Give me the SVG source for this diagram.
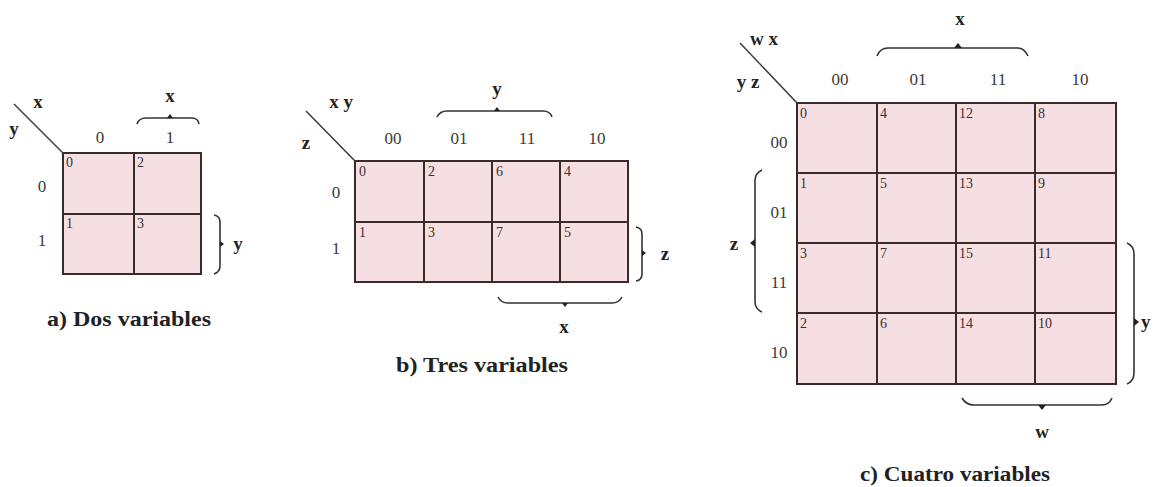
<svg xmlns="http://www.w3.org/2000/svg" width="1155" height="487" viewBox="0 0 1155 487">
<style>
.bg{fill:#ffffff}
.cell{fill:#f6dfe2;stroke:#3a2b2b;stroke-width:2}
.grid{stroke:#3a2b2b;stroke-width:2;fill:none}
.diag{stroke:#3a3a3a;stroke-width:1.5;fill:none}
.brace{stroke:#333;stroke-width:1.6;fill:none}
.tip{fill:#222}
.num{font-family:"Liberation Serif",serif;font-size:14px;fill:#3a3030}
.hdr{font-family:"Liberation Serif",serif;font-size:17px;fill:#3a3a3a;text-anchor:middle}
.var{font-family:"Liberation Serif",serif;font-size:19px;font-weight:bold;fill:#222;text-anchor:middle}
.cap{font-family:"Liberation Serif",serif;font-size:20px;font-weight:bold;fill:#222;text-anchor:middle}
</style>
<rect class="bg" x="0" y="0" width="1155" height="487"/>

<g id="map-a">
  <rect class="cell" x="63" y="153" width="138" height="121"/>
  <path class="grid" d="M134 153V274M63 214H201"/>
  <path class="diag" d="M14 104L63 153"/>
  <text class="var" x="38" y="108">x</text>
  <text class="var" x="14" y="135">y</text>
  <text class="hdr" x="100" y="143">0</text>
  <text class="hdr" x="170" y="143">1</text>
  <text class="hdr" x="42" y="192">0</text>
  <text class="hdr" x="42" y="246">1</text>
  <text class="num" x="66" y="167">0</text>
  <text class="num" x="137" y="167">2</text>
  <text class="num" x="66" y="228">1</text>
  <text class="num" x="137" y="228">3</text>
  <text class="var" x="170" y="102">x</text>
  <text class="var" x="238" y="250">y</text>
  <text class="cap" x="129" y="326" textLength="164" lengthAdjust="spacingAndGlyphs">a) Dos variables</text>
</g>

<g id="map-b">
  <rect class="cell" x="355" y="161" width="273" height="121"/>
  <path class="grid" d="M424 161V282M492 161V282M560 161V282M355 222H628"/>
  <path class="diag" d="M306 111L355 161"/>
  <text class="var" x="341" y="108">x y</text>
  <text class="var" x="306" y="149">z</text>
  <text class="hdr" x="393" y="144">00</text>
  <text class="hdr" x="459" y="144">01</text>
  <text class="hdr" x="527" y="144">11</text>
  <text class="hdr" x="597" y="144">10</text>
  <text class="hdr" x="336" y="198">0</text>
  <text class="hdr" x="336" y="254">1</text>
  <text class="num" x="359" y="176">0</text>
  <text class="num" x="428" y="176">2</text>
  <text class="num" x="496" y="176">6</text>
  <text class="num" x="564" y="176">4</text>
  <text class="num" x="359" y="237">1</text>
  <text class="num" x="428" y="237">3</text>
  <text class="num" x="496" y="237">7</text>
  <text class="num" x="564" y="237">5</text>
  <text class="var" x="497" y="95">y</text>
  <text class="var" x="665" y="260">z</text>
  <text class="var" x="564" y="333">x</text>
  <text class="cap" x="482" y="372" textLength="172" lengthAdjust="spacingAndGlyphs">b) Tres variables</text>
</g>

<g id="map-c">
  <rect class="cell" x="797" y="103" width="319" height="281"/>
  <path class="grid" d="M877 103V384M956 103V384M1035 103V384M797 173H1116M797 243H1116M797 313H1116"/>
  <path class="diag" d="M740 43L797 103"/>
  <text class="var" x="764" y="45">w x</text>
  <text class="var" x="748" y="88">y z</text>
  <text class="hdr" x="840" y="85">00</text>
  <text class="hdr" x="918" y="85">01</text>
  <text class="hdr" x="998" y="85">11</text>
  <text class="hdr" x="1080" y="85">10</text>
  <text class="hdr" x="779" y="148">00</text>
  <text class="hdr" x="779" y="218">01</text>
  <text class="hdr" x="779" y="288">11</text>
  <text class="hdr" x="779" y="358">10</text>
  <text class="num" x="800" y="118">0</text>
  <text class="num" x="880" y="118">4</text>
  <text class="num" x="959" y="118">12</text>
  <text class="num" x="1038" y="118">8</text>
  <text class="num" x="800" y="188">1</text>
  <text class="num" x="880" y="188">5</text>
  <text class="num" x="959" y="188">13</text>
  <text class="num" x="1038" y="188">9</text>
  <text class="num" x="800" y="258">3</text>
  <text class="num" x="880" y="258">7</text>
  <text class="num" x="959" y="258">15</text>
  <text class="num" x="1038" y="258">11</text>
  <text class="num" x="800" y="328">2</text>
  <text class="num" x="880" y="328">6</text>
  <text class="num" x="959" y="328">14</text>
  <text class="num" x="1038" y="328">10</text>
  <text class="var" x="960" y="25">x</text>
  <text class="var" x="734" y="250">z</text>
  <text class="var" x="1141" y="328" style="text-anchor:start">y</text>
  <text class="var" x="1042" y="438">w</text>
  <text class="cap" x="955" y="481" textLength="190" lengthAdjust="spacingAndGlyphs">c) Cuatro variables</text>
</g>

<g id="connectors">
  <path class="brace" d="M137 124Q139 118 146 118H192Q198 118 199 124"/>
  <path class="tip" d="M167 118L170 114L173 118Z"/>
  <path class="brace" d="M214 215Q220 216 220 222V266Q220 272 214 274"/>
  <path class="tip" d="M220 241L224 244L220 247Z"/>
  <path class="brace" d="M437 117Q440 111 447 111H543Q550 111 552 117"/>
  <path class="tip" d="M494 111L497 107L500 111Z"/>
  <path class="brace" d="M636 227Q642 228 642 234V274Q642 280 636 281"/>
  <path class="tip" d="M642 250L646 253L642 256Z"/>
  <path class="brace" d="M498 297Q501 303 508 303H612Q619 303 622 297"/>
  <path class="tip" d="M562 303L565 307L568 303Z"/>
  <path class="brace" d="M877 56Q880 48 888 48H1018Q1024 48 1028 56"/>
  <path class="tip" d="M954 48L958 43L962 48Z"/>
  <path class="brace" d="M762 170Q755 173 755 181V302Q755 309 762 312"/>
  <path class="tip" d="M755 239L750 243L755 247Z"/>
  <path class="brace" d="M1127 243Q1134 246 1134 254V373Q1134 381 1127 384"/>
  <path class="tip" d="M1134 318L1139 322L1134 326Z"/>
  <path class="brace" d="M962 398Q966 405 974 405H1102Q1109 405 1112 398"/>
  <path class="tip" d="M1038 405L1042 410L1046 405Z"/>
</g>
</svg>
